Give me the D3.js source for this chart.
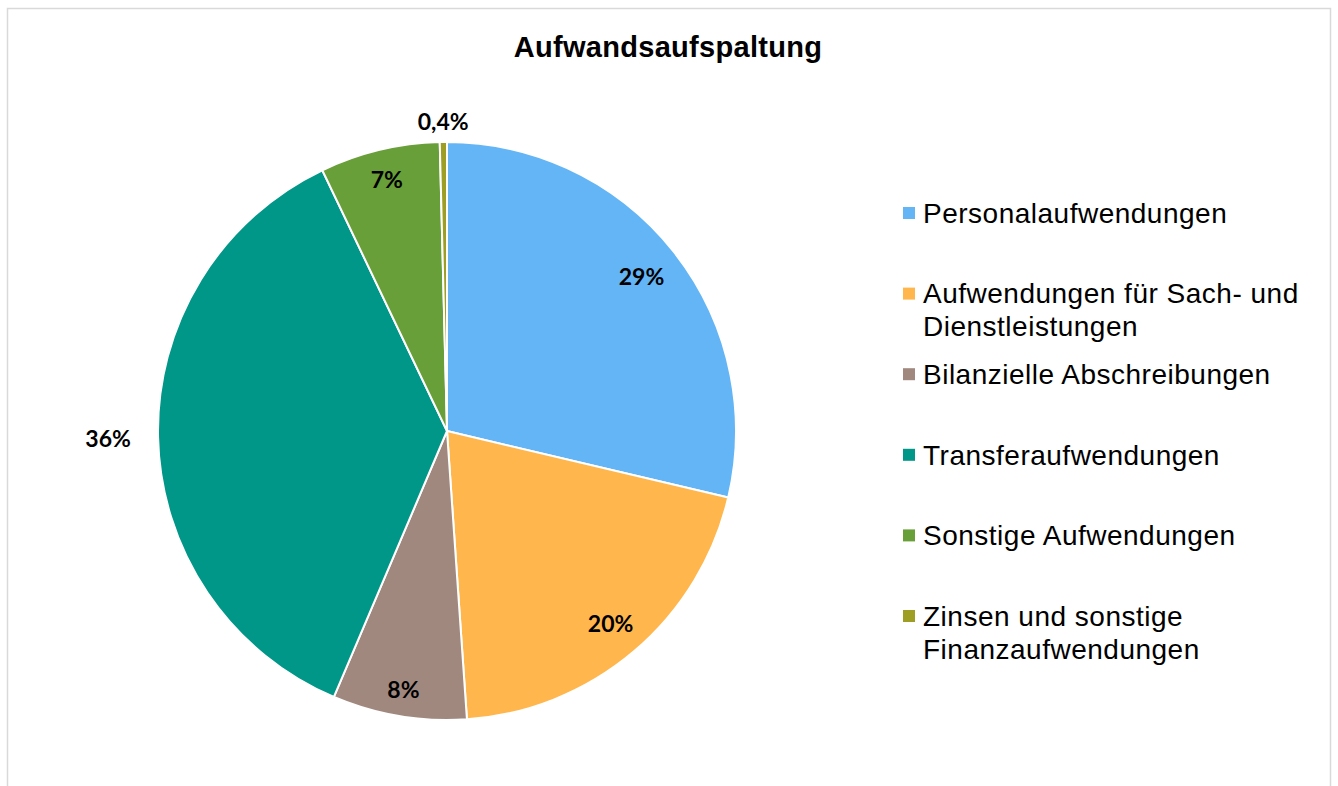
<!DOCTYPE html>
<html>
<head>
<meta charset="utf-8">
<script src="https://cdn.jsdelivr.net/npm/d3@7"></script>
<style>
  html, body { margin: 0; padding: 0; background: #fff; }
  svg { display: block; }
</style>
</head>
<body>
<svg id="chart" width="1338" height="786"></svg>
<script>
const title = "Aufwandsaufspaltung";
const categories = [
  "Personalaufwendungen",
  "Aufwendungen für Sach- und Dienstleistungen",
  "Bilanzielle Abschreibungen",
  "Transferaufwendungen",
  "Sonstige Aufwendungen",
  "Zinsen und sonstige Finanzaufwendungen"
];
const legendLines = [
  ["Personalaufwendungen"],
  ["Aufwendungen für Sach- und", "Dienstleistungen"],
  ["Bilanzielle Abschreibungen"],
  ["Transferaufwendungen"],
  ["Sonstige Aufwendungen"],
  ["Zinsen und sonstige", "Finanzaufwendungen"]
];
const values = [28.7, 20.2, 7.5, 36.5, 6.7, 0.4];
const valueLabels = ["29%", "20%", "8%", "36%", "7%", "0,4%"];
const colors = ["#64B5F6", "#FFB74D", "#A1887F", "#009688", "#689F38", "#9E9D24"];

const svg = d3.select("#chart");

// outer border
svg.append("rect")
  .attr("x", 7.5).attr("y", 8.5)
  .attr("width", 1323).attr("height", 800)
  .attr("fill", "none").attr("stroke", "#d9d9d9").attr("stroke-width", 1.5);

svg.append("text")
  .attr("x", 668).attr("y", 57)
  .attr("text-anchor", "middle")
  .attr("font-family", "Liberation Sans, Arial, sans-serif")
  .attr("font-weight", "bold")
  .attr("font-size", 29)
  .attr("letter-spacing", 0.3)
  .attr("fill", "#000")
  .text(title);

const cx = 447, cy = 431, r = 289;
const g = svg.append("g").attr("transform", `translate(${cx},${cy})`);

const pie = d3.pie().sort(null).value(d => d);
const arcs = pie(values);
const arc = d3.arc().innerRadius(0).outerRadius(r);

g.selectAll("path.slice")
  .data(arcs)
  .join("path")
  .attr("class", "slice")
  .attr("d", arc)
  .attr("fill", (d, i) => colors[i])
  .attr("stroke", "#fff")
  .attr("stroke-width", 2)
  .attr("stroke-linejoin", "round");

// label radius factors (relative to r)
const labelFactor = [0.858, 0.875, 0.91, 1.173, 0.893, 1.07];
g.selectAll("text.lbl")
  .data(arcs)
  .join("text")
  .attr("class", "lbl")
  .attr("transform", (d, i) => {
    const a = (d.startAngle + d.endAngle) / 2;
    const rr = r * labelFactor[i];
    return `translate(${rr * Math.sin(a)},${-rr * Math.cos(a)})`;
  })
  .attr("text-anchor", "middle")
  .attr("dy", "0.35em")
  .attr("font-family", "Lato, 'Open Sans', sans-serif")
  .attr("font-weight", "bold")
  .attr("font-size", 23)
  .attr("fill", "#000")
  .text((d, i) => valueLabels[i]);

// legend
const legend = svg.append("g");
const lx = 903, ly0 = 213, step = 80.6, lineH = 33;
categories.forEach((c, i) => {
  const y = ly0 + i * step;
  legend.append("rect")
    .attr("x", lx).attr("y", y - 6)
    .attr("width", 12).attr("height", 12)
    .attr("fill", colors[i]);
  const t = legend.append("text")
    .attr("x", lx + 20).attr("y", y)
    .attr("font-family", "Liberation Sans, Arial, sans-serif")
    .attr("font-size", 28)
    .attr("letter-spacing", 0.5)
    .attr("fill", "#000");
  legendLines[i].forEach((ln, j) => {
    t.append("tspan")
      .attr("x", lx + 20)
      .attr("y", y + j * lineH)
      .attr("dy", "0.35em")
      .text(ln);
  });
});
</script>
</body>
</html>
